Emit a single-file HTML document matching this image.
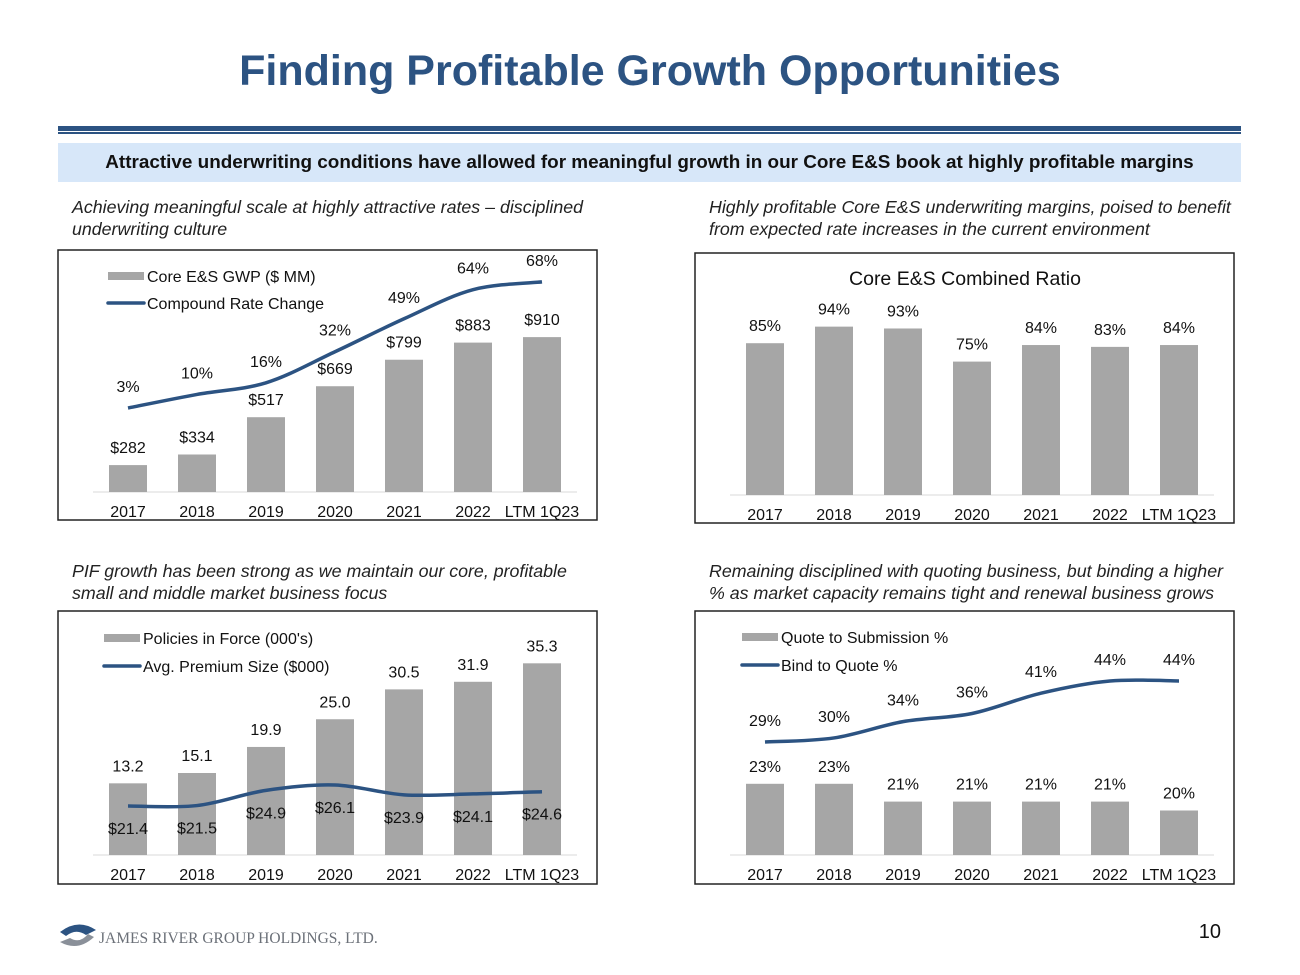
<!DOCTYPE html>
<html><head><meta charset="utf-8"><style>
body{margin:0;width:1300px;height:975px;background:#fff;font-family:"Liberation Sans",sans-serif;position:relative;overflow:hidden}
.abs{position:absolute}
.sub{font-style:italic;font-size:17.8px;color:#222;line-height:22px}
</style></head><body>
<div class="abs" style="left:0;width:1300px;top:47px;text-align:center;font-size:43px;font-weight:bold;color:#2c5382">Finding Profitable Growth Opportunities</div>
<div class="abs" style="left:58px;width:1183px;top:126px;height:5px;background:#2c5382"></div>
<div class="abs" style="left:58px;width:1183px;top:132px;height:2px;background:#2c5382"></div>
<div class="abs" style="left:58px;width:1183px;top:143px;height:39px;background:#d7e7f9;text-align:center;line-height:40px;font-size:18.9px;font-weight:bold;color:#111">Attractive underwriting conditions have allowed for meaningful growth in our Core E&amp;S book at highly profitable margins</div>
<div class="abs sub" style="left:72px;top:196px">Achieving meaningful scale at highly attractive rates – disciplined<br>underwriting culture</div>
<div class="abs sub" style="left:709px;top:196px">Highly profitable Core E&amp;S underwriting margins, poised to benefit<br>from expected rate increases in the current environment</div>
<div class="abs sub" style="left:72px;top:560px">PIF growth has been strong as we maintain our core, profitable<br>small and middle market business focus</div>
<div class="abs sub" style="left:709px;top:560px">Remaining disciplined with quoting business, but binding a higher<br>% as market capacity remains tight and renewal business grows</div>
<svg class="abs" style="left:0;top:0" width="1300" height="975" id="svg">
<g>
<path d="M60 932 Q78 918 96 930 L86 935 Q76 928 66 936 Z" fill="#2c5382"/>
<path d="M94 937 Q78 952 60 942 L70 938 Q80 944 88 934 Z" fill="#8a9099"/>
<text x="99" y="943" font-family="Liberation Serif,serif" font-size="15.5" fill="#6b7078">JAMES RIVER GROUP HOLDINGS, LTD.</text>
</g>
<text x="1221" y="938" text-anchor="end" font-size="20" fill="#111">10</text>
</svg>
<script>
const years=["2017","2018","2019","2020","2021","2022","LTM 1Q23"];
const gwp=[282,334,517,669,799,883,910];
const gwpLabels=["$282","$334","$517","$669","$799","$883","$910"];
const rateChange=[3,10,16,32,49,64,68];
const combinedRatio=[85,94,93,75,84,83,84];
const pif=[13.2,15.1,19.9,25.0,30.5,31.9,35.3];
const avgPremium=[21.4,21.5,24.9,26.1,23.9,24.1,24.6];
const quoteToSub=[23,23,21,21,21,21,20];
const bindToQuote=[29,30,34,36,41,44,44];

const svg=document.getElementById('svg');const NS="http://www.w3.org/2000/svg";
function mk(t,a,txt){const e=document.createElementNS(NS,t);for(const k in a)e.setAttribute(k,a[k]);if(txt!==undefined)e.textContent=txt;svg.appendChild(e);return e;}
function curve(p){let d=`M${p[0][0]},${p[0][1]}`;for(let i=0;i<p.length-1;i++){const p0=p[i-1]||p[i],p1=p[i],p2=p[i+1],p3=p[i+2]||p2;d+=` C${p1[0]+(p2[0]-p0[0])/6},${p1[1]+(p2[1]-p0[1])/6} ${p2[0]-(p3[0]-p1[0])/6},${p2[1]-(p3[1]-p1[1])/6} ${p2[0]},${p2[1]}`;}return d;}
function chart(c){
  const r=mk('rect',{x:c.box[0],y:c.box[1],width:c.box[2],height:c.box[3],fill:'#fff',stroke:'#222','stroke-width':1.5});
  
  const xs=i=>c.x0+i*69;
  const ax=mk('line',{x1:c.x0-35,x2:c.x0+6*69+35,y1:c.base,y2:c.base,stroke:'#d9d9d9'});
  
  years.forEach((y,i)=>{const t=mk('text',{x:xs(i),y:c.xl,'text-anchor':'middle','font-size':16,fill:'#111'},y);
    });
  const by=v=>c.base-(v-c.bmin)*c.bs;
  c.bars.forEach((v,i)=>{const b=mk('rect',{x:xs(i)-19,y:by(v),width:38,height:c.base-by(v),fill:'#a6a6a6'});
    
    const t=mk('text',{x:xs(i),y:by(v)-12,'text-anchor':'middle','font-size':16,fill:'#111'},c.barLab[i]);
    });
  if(c.line){const ly=v=>c.lref-(v-c.lmin)*c.ls;
    const pts=c.line.map((v,i)=>[xs(i),ly(v)]);
    const p=mk('path',{d:curve(pts),fill:'none',stroke:'#2c5382','stroke-width':3.5});
    
    c.line.forEach((v,i)=>{const t=mk('text',{x:xs(i),y:ly(v)+c.loff,'text-anchor':'middle','font-size':16,fill:'#111'},c.lineLab[i]);
      });}
  if(c.legend){const [lx,ly1,ly2]=c.legend;
    const s=mk('rect',{x:lx,y:ly1-4,width:36,height:8,fill:'#a6a6a6'});
    const t1=mk('text',{x:lx+39,y:ly1+6,'font-size':16,fill:'#111'},c.legText[0]);
    const l=mk('line',{x1:lx,x2:lx+36,y1:ly2,y2:ly2,stroke:'#2c5382','stroke-width':3.5,'stroke-linecap':'round'});
    const t2=mk('text',{x:lx+39,y:ly2+6,'font-size':16,fill:'#111'},c.legText[1]);}
  if(c.title){const t=mk('text',{x:965,y:285,'text-anchor':'middle','font-size':19.5,fill:'#111'},c.title);}
}
chart({name:'gwp',box:[58,250,539,270],x0:128,base:492,xl:517,bars:gwp,barLab:gwpLabels,bmin:150,bs:0.2038,
  line:rateChange,lineLab:rateChange.map(v=>v+'%'),lref:408,lmin:3,ls:1.94,loff:-16,legend:[108,276,303],legText:['Core E&S GWP ($ MM)','Compound Rate Change']});
chart({name:'combined-ratio',box:[695,253,539,270],x0:765,base:495,xl:520,bars:combinedRatio,barLab:combinedRatio.map(v=>v+'%'),bmin:2.5,bs:1.84,title:'Core E&S Combined Ratio'});
chart({name:'pif',box:[58,611,539,273],x0:128,base:855,xl:880,bars:pif,barLab:pif.map(v=>v.toFixed(1)),bmin:0,bs:5.43,
  line:avgPremium,lineLab:avgPremium.map(v=>'$'+v.toFixed(1)),lref:806,lmin:21.4,ls:4.47,loff:28,legend:[104,638,666],legText:["Policies in Force (000's)","Avg. Premium Size ($000)"]});
chart({name:'quote',box:[695,611,539,273],x0:765,base:855,xl:880,bars:quoteToSub,barLab:quoteToSub.map(v=>v+'%'),bmin:15,bs:8.9,
  line:bindToQuote,lineLab:bindToQuote.map(v=>v+'%'),lref:742,lmin:29,ls:4.07,loff:-16,legend:[742,637,665],legText:['Quote to Submission %','Bind to Quote %']});
</script>
</body></html>
